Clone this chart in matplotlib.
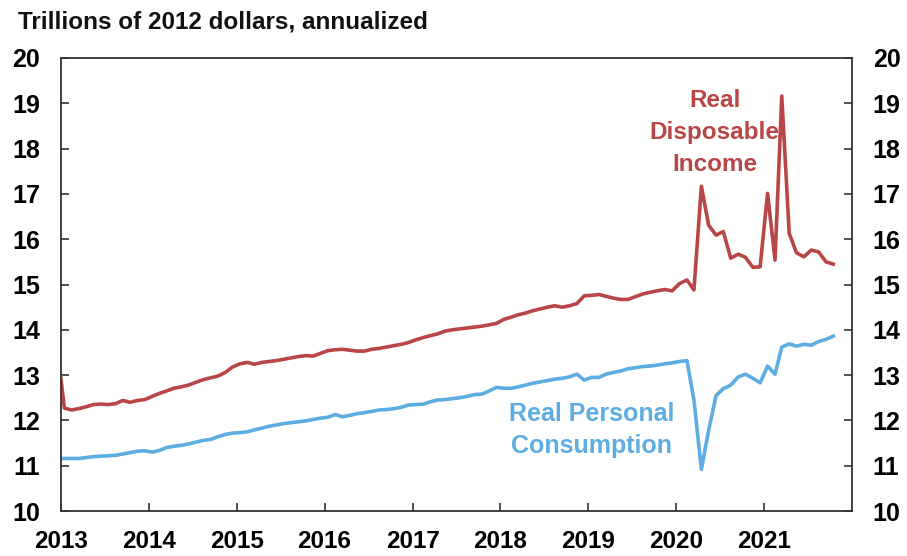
import matplotlib
matplotlib.use("Agg")
import matplotlib.pyplot as plt
import matplotlib.dates as mdates
import pandas as pd

# monthly, Dec 2012 .. Oct 2021, trillions of 2012 dollars
months = pd.date_range("2012-12-01", "2021-10-01", freq="MS") + pd.Timedelta(days=14)

disposable_income = [
    13.65,
    12.27, 12.23, 12.26, 12.30, 12.35, 12.36, 12.35, 12.37, 12.44, 12.40, 12.44, 12.46,
    12.53, 12.60, 12.65, 12.71, 12.74, 12.78, 12.84, 12.90, 12.94, 12.98, 13.06, 13.18,
    13.25, 13.28, 13.24, 13.28, 13.30, 13.32, 13.35, 13.38, 13.41, 13.43, 13.42, 13.48,
    13.54, 13.56, 13.57, 13.55, 13.53, 13.53, 13.57, 13.59, 13.62, 13.65, 13.68, 13.72,
    13.78, 13.83, 13.87, 13.91, 13.97, 14.00, 14.02, 14.04, 14.06, 14.08, 14.11, 14.14,
    14.23, 14.28, 14.33, 14.37, 14.42, 14.46, 14.50, 14.53, 14.50, 14.53, 14.58, 14.75,
    14.76, 14.78, 14.74, 14.70, 14.67, 14.67, 14.73, 14.79, 14.83, 14.86, 14.89, 14.86,
    15.02, 15.10, 14.88, 17.17, 16.31, 16.09, 16.17, 15.58, 15.67, 15.60, 15.38, 15.39,
    17.01, 15.54, 19.16, 16.13, 15.70, 15.61, 15.76, 15.72, 15.50, 15.45,
]

consumption = [
    11.15,
    11.16, 11.16, 11.16, 11.18, 11.20, 11.21, 11.22, 11.23, 11.26, 11.29, 11.32, 11.33,
    11.30, 11.34, 11.40, 11.43, 11.45, 11.48, 11.52, 11.56, 11.58, 11.64, 11.69, 11.72,
    11.73, 11.75, 11.79, 11.83, 11.87, 11.90, 11.93, 11.95, 11.97, 11.99, 12.02, 12.05,
    12.07, 12.13, 12.08, 12.11, 12.15, 12.17, 12.20, 12.23, 12.24, 12.26, 12.29, 12.34,
    12.35, 12.36, 12.41, 12.45, 12.46, 12.48, 12.50, 12.53, 12.57, 12.58, 12.65, 12.73,
    12.71, 12.71, 12.74, 12.78, 12.82, 12.85, 12.88, 12.91, 12.93, 12.96, 13.02, 12.89,
    12.95, 12.95, 13.02, 13.06, 13.09, 13.14, 13.16, 13.19, 13.20, 13.22, 13.25, 13.27,
    13.30, 13.32, 12.45, 10.92, 11.78, 12.55, 12.70, 12.78, 12.96, 13.02, 12.93, 12.83,
    13.20, 13.02, 13.62, 13.69, 13.64, 13.68, 13.66, 13.74, 13.79, 13.86,
]

year_ticks = [str(y) for y in range(2013, 2022)]
y_ticks = list(range(10, 21))

RED = "#B94646"
BLUE = "#5DADE2"

plt.rcParams["font.family"] = ["Liberation Sans", "DejaVu Sans"]
plt.rcParams["font.weight"] = "bold"

fig = plt.figure(figsize=(9.07, 5.56), dpi=100)
ax = fig.add_axes([0.0673, 0.0809, 0.8721, 0.8148])

ax.plot(months, disposable_income, color=RED, lw=2.6, solid_joinstyle="round")
ax.plot(months, consumption, color=BLUE, lw=2.6, solid_joinstyle="round")

ax.set_xlim(pd.Timestamp("2013-01-01"), pd.Timestamp("2022-01-01"))
ax.set_ylim(10, 20)
ax.set_yticks(y_ticks)
ax.set_xticks([pd.Timestamp(f"{y}-01-01") for y in year_ticks])
ax.xaxis.set_major_formatter(mdates.DateFormatter("%Y"))

for s in ax.spines.values():
    s.set_color("#333333")
    s.set_linewidth(1.3)

ax.tick_params(axis="y", direction="in", length=6, width=1.2, color="#333333",
               left=True, right=True, labelleft=True, labelright=True,
               labelsize=18, pad=15)
ax.tick_params(axis="x", direction="in", length=6, width=1.2, color="#333333",
               labelsize=17.5, pad=14)

fig.text(0.020, 0.960, "Trillions of 2012 dollars, annualized", fontsize=17.5,
         fontweight="bold", va="center", ha="left", color="#111111")

ax.text(pd.Timestamp("2020-06-10"), 18.35, "Real\nDisposable\nIncome", color=RED,
        fontsize=17.5, fontweight="bold", ha="center", va="center", linespacing=1.5)
ax.text(pd.Timestamp("2019-01-15"), 11.79, "Real Personal\nConsumption", color=BLUE,
        fontsize=18, fontweight="bold", ha="center", va="center", linespacing=1.4)

fig.savefig("out.png", dpi=100)
